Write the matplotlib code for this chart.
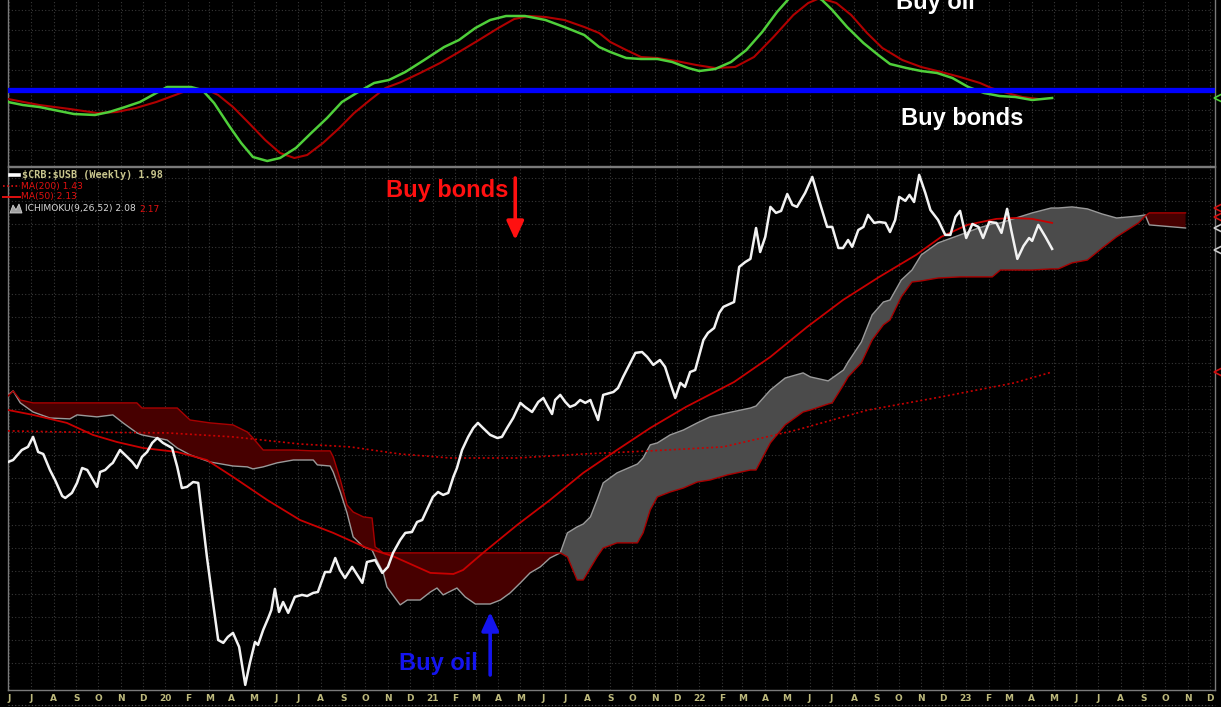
import numpy as np
import pandas as pd
import matplotlib
matplotlib.use("Agg")
import matplotlib.pyplot as plt
import matplotlib.transforms as mtransforms
from matplotlib.lines import Line2D
from matplotlib.patches import Polygon

START = pd.Timestamp("2019-06-01")


def wk(weeks):
    return START + pd.to_timedelta(np.asarray(weeks, dtype=float) * 7, unit="D")


# ---------------- data: $CRB:$USB weekly (weeks since 2019-06-01) ----------------
crb_weeks = [-0.2, 0.8, 2.5, 3.7, 4.7, 5.7, 6.7, 8.0, 9.0, 10.4,
             11.0, 12.3, 13.3, 14.3, 15.3, 16.2, 17.2, 17.8, 18.8, 19.8,
             20.3, 21.7, 23.1, 24.1, 25.0, 26.0, 27.0, 28.0, 29.0, 30.1,
             31.9, 32.9, 33.8, 34.8, 36.0, 37.0, 38.7, 39.9, 40.9, 41.9,
             42.8, 43.8, 45.0, 46.2, 47.1, 48.1, 48.7, 49.7, 50.7, 51.3,
             52.0, 52.8, 53.6, 54.6, 55.9, 57.3, 58.3, 59.5, 60.4, 61.8,
             62.8, 63.8, 64.7, 65.7, 67.1, 69.1, 70.0, 71.6, 73.0, 74.1,
             75.1, 76.5, 77.5, 78.8, 79.8, 80.8, 82.0, 82.9, 83.9, 84.9,
             85.9, 86.9, 87.6, 88.6, 89.8, 90.8, 91.7, 92.7, 94.1, 95.5,
             96.4, 97.4, 98.6, 100.0, 100.9, 102.3, 103.5, 104.5, 105.2, 106.2,
             106.8, 107.8, 108.8, 109.7, 110.7, 111.7, 112.7, 113.7, 114.2, 115.2,
             116.2, 118.2, 119.1, 120.1, 121.5, 122.5, 123.8, 124.8, 126.0, 127.3,
             128.3, 129.3, 130.3, 131.3, 132.2, 133.2, 134.2, 135.8, 136.7, 137.9,
             138.9, 139.7, 141.8, 142.8, 144.0, 145.0, 146.1, 146.9, 147.9, 148.9,
             150.0, 151.0, 152.2, 153.2, 154.1, 155.7, 157.1, 158.4, 160.0, 161.0,
             162.2, 163.1, 164.1, 164.9, 166.1, 167.1, 168.0, 169.2, 170.2, 171.4,
             172.3, 173.3, 174.1, 175.3, 176.1, 177.0, 178.0, 179.2, 180.2, 181.7,
             183.1, 184.1, 185.1, 186.0, 187.2, 188.4, 189.6, 190.5, 191.7, 193.1,
             194.1, 195.2, 196.0, 197.2, 198.4, 199.5, 200.1, 201.3, 202.7, 204.0]
crb_vals = [1.026, 1.035, 1.080, 1.094, 1.139, 1.071, 1.062, 0.990, 0.945, 0.873,
            0.864, 0.887, 0.932, 0.999, 0.990, 0.954, 0.914, 0.981, 0.990, 1.013,
            1.022, 1.080, 1.049, 1.026, 0.999, 1.049, 1.071, 1.112, 1.134, 1.112,
            1.089, 1.004, 0.909, 0.914, 0.936, 0.932, 0.599, 0.392, 0.225, 0.212,
            0.239, 0.257, 0.194, 0.023, 0.122, 0.216, 0.203, 0.270, 0.324, 0.360,
            0.455, 0.351, 0.396, 0.347, 0.419, 0.428, 0.423, 0.437, 0.441, 0.531,
            0.531, 0.594, 0.540, 0.504, 0.554, 0.482, 0.576, 0.585, 0.527, 0.554,
            0.617, 0.675, 0.707, 0.711, 0.756, 0.765, 0.824, 0.869, 0.891, 0.878,
            0.887, 0.959, 0.999, 1.080, 1.139, 1.179, 1.202, 1.179, 1.148, 1.134,
            1.139, 1.179, 1.224, 1.292, 1.274, 1.251, 1.296, 1.314, 1.283, 1.242,
            1.305, 1.328, 1.296, 1.274, 1.283, 1.305, 1.292, 1.305, 1.274, 1.215,
            1.328, 1.341, 1.359, 1.409, 1.472, 1.517, 1.521, 1.499, 1.463, 1.485,
            1.454, 1.382, 1.314, 1.382, 1.364, 1.431, 1.440, 1.575, 1.607, 1.629,
            1.697, 1.724, 1.746, 1.904, 1.926, 1.940, 2.079, 1.971, 2.039, 2.174,
            2.147, 2.156, 2.232, 2.183, 2.174, 2.237, 2.309, 2.205, 2.084, 2.084,
            1.989, 1.989, 2.025, 1.994, 2.070, 2.084, 2.138, 2.102, 2.106, 2.102,
            2.061, 2.115, 2.219, 2.201, 2.228, 2.196, 2.318, 2.237, 2.160, 2.115,
            2.048, 2.048, 2.129, 2.156, 2.034, 2.097, 2.084, 2.034, 2.106, 2.102,
            2.057, 2.165, 2.070, 1.940, 1.998, 2.034, 2.021, 2.093, 2.039, 1.985]

# ---------------- moving averages ----------------
ma50_weeks = [-0.2, 4.7, 11.3, 16.4, 21.1, 26.2, 32.9, 38.7, 43.8, 50.5,
              56.9, 63.4, 70.0, 75.1, 82.4, 86.9, 88.8, 92.7, 99.4, 105.8,
              112.3, 118.9, 125.4, 132.4, 141.8, 148.9, 156.1, 163.1, 170.2, 177.4,
              182.3, 187.4, 193.1, 196.6, 200.1, 204.0]
ma50_vals = [1.260, 1.238, 1.202, 1.148, 1.116, 1.089, 1.071, 1.035, 0.959, 0.855,
             0.765, 0.707, 0.639, 0.602, 0.527, 0.522, 0.540, 0.617, 0.743, 0.855,
             0.977, 1.080, 1.179, 1.274, 1.386, 1.499, 1.634, 1.755, 1.859, 1.958,
             2.039, 2.093, 2.120, 2.124, 2.120, 2.102]
ma200_weeks = [-0.2, 11.3, 30.9, 43.8, 56.9, 66.7, 76.5, 86.3, 99.4, 112.3,
               125.4, 139.7, 154.0, 168.0, 182.3, 196.6, 204.0]
ma200_vals = [1.166, 1.161, 1.157, 1.139, 1.107, 1.094, 1.062, 1.044, 1.044, 1.062,
              1.076, 1.094, 1.170, 1.260, 1.319, 1.382, 1.431]

# ---------------- Ichimoku cloud (leading spans, shifted forward) ----------------
cloud_weeks = [-0.2, 0.8, 2.2, 4.7, 8.0, 11.9, 13.3, 17.2, 20.3, 22.3,
               25.0, 26.0, 30.9, 32.9, 35.4, 39.3, 43.8, 46.6, 47.7, 49.7,
               52.4, 55.6, 59.5, 60.3, 62.8, 63.4, 64.8, 66.1, 67.3, 69.3,
               71.0, 71.6, 73.2, 73.9, 76.5, 77.9, 80.4, 82.4, 83.7, 84.9,
               87.6, 89.2, 91.2, 94.1, 96.1, 98.0, 100.0, 101.9, 103.9, 105.8,
               107.8, 109.2, 111.1, 112.3, 113.7, 115.0, 116.2, 118.9, 122.9, 124.0,
               125.4, 126.8, 129.3, 131.9, 134.6, 137.1, 140.5, 145.0, 146.1, 148.9,
               151.8, 155.3, 156.7, 160.2, 161.0, 163.2, 164.1, 166.7, 168.8, 171.0,
               172.3, 174.5, 176.6, 178.4, 181.7, 186.0, 189.6, 192.3, 193.9, 200.1,
               203.8, 205.2, 207.9, 210.9, 213.8, 216.6, 220.9, 222.2, 223.0, 230.1]
span_a = [1.328, 1.346, 1.292, 1.251, 1.224, 1.220, 1.238, 1.229, 1.238, 1.202,
          1.157, 1.148, 1.125, 1.089, 1.058, 1.026, 1.008, 1.004, 0.995, 1.004,
          1.022, 1.035, 1.035, 1.013, 1.008, 0.981, 0.891, 0.797, 0.689, 0.644,
          0.630, 0.599, 0.527, 0.464, 0.383, 0.405, 0.405, 0.441, 0.459, 0.428,
          0.459, 0.419, 0.387, 0.387, 0.405, 0.437, 0.482, 0.527, 0.554, 0.594,
          0.617, 0.707, 0.734, 0.747, 0.779, 0.855, 0.932, 0.977, 1.017, 1.044,
          1.103, 1.112, 1.148, 1.170, 1.202, 1.229, 1.247, 1.269, 1.278, 1.350,
          1.404, 1.427, 1.409, 1.391, 1.404, 1.440, 1.476, 1.566, 1.688, 1.746,
          1.755, 1.845, 1.890, 1.958, 2.012, 2.048, 2.079, 2.097, 2.102, 2.147,
          2.169, 2.169, 2.174, 2.165, 2.142, 2.124, 2.133, 2.138, 2.093, 2.079]
span_b = [1.323, 1.346, 1.305, 1.292, 1.292, 1.292, 1.292, 1.292, 1.292, 1.292,
          1.292, 1.269, 1.269, 1.269, 1.215, 1.202, 1.193, 1.161, 1.134, 1.080,
          1.080, 1.080, 1.076, 1.076, 1.076, 1.049, 0.945, 0.833, 0.801, 0.779,
          0.774, 0.644, 0.617, 0.617, 0.617, 0.617, 0.617, 0.617, 0.617, 0.617,
          0.617, 0.617, 0.617, 0.617, 0.617, 0.617, 0.617, 0.617, 0.617, 0.617,
          0.617, 0.599, 0.495, 0.495, 0.549, 0.599, 0.639, 0.662, 0.662, 0.707,
          0.810, 0.869, 0.891, 0.909, 0.936, 0.945, 0.968, 0.990, 0.990, 1.112,
          1.193, 1.251, 1.260, 1.287, 1.292, 1.373, 1.409, 1.472, 1.575, 1.643,
          1.665, 1.769, 1.836, 1.841, 1.854, 1.859, 1.859, 1.859, 1.890, 1.890,
          1.895, 1.895, 1.922, 1.935, 1.989, 2.039, 2.102, 2.133, 2.147, 2.147]

# ---------------- upper oscillator ----------------
osc_weeks = [-0.2, 2.7, 5.9, 8.8, 12.7, 16.8, 19.6, 22.7, 25.6, 28.8,
             30.9, 33.3, 35.6, 37.8, 40.1, 43.2, 45.4, 47.7, 50.5, 53.0,
             56.1, 59.1, 62.2, 65.1, 68.3, 71.4, 74.3, 77.5, 81.2, 85.1,
             88.0, 91.2, 94.1, 97.2, 100.9, 104.9, 108.6, 112.5, 115.4, 117.6,
             120.7, 123.6, 126.8, 129.7, 132.8, 135.0, 138.1, 141.2, 144.2, 147.3,
             150.2, 152.8, 155.7, 159.0, 161.0, 163.9, 167.1, 170.0, 172.3, 175.5,
             178.4, 181.5, 184.5, 187.6, 190.7, 193.7, 196.8, 200.1, 204.0]
osc_vals = [-1.2, -1.5, -1.7, -2.0, -2.4, -2.5, -2.2, -1.7, -1.2, -0.3,
            0.3, 0.3, 0.3, 0.0, -1.3, -3.7, -5.3, -6.7, -7.1, -6.8,
            -5.8, -4.3, -2.8, -1.2, -0.2, 0.7, 1.0, 1.8, 3.0, 4.3,
            5.0, 6.2, 7.0, 7.4, 7.4, 7.0, 6.3, 5.5, 4.3, 3.8,
            3.2, 3.1, 3.1, 2.8, 2.2, 1.9, 2.1, 2.8, 4.0, 5.8,
            7.8, 9.3, 9.9, 9.0, 8.0, 6.3, 4.7, 3.5, 2.6, 2.2,
            1.9, 1.7, 1.2, 0.3, -0.3, -0.6, -0.7, -1.0, -0.8]
sig_weeks = [-0.2, 5.9, 11.9, 17.2, 21.1, 24.8, 28.8, 32.5, 35.6, 38.5,
             40.9, 43.8, 46.9, 50.1, 53.0, 55.8, 58.3, 61.4, 64.6, 67.5,
             70.6, 73.6, 76.7, 80.4, 84.3, 88.0, 91.9, 95.7, 98.8, 101.7,
             104.9, 108.6, 112.5, 115.4, 117.6, 120.7, 123.6, 126.8, 130.5, 134.4,
             138.1, 142.0, 145.7, 149.5, 153.4, 156.3, 158.6, 161.8, 164.7, 167.8,
             170.8, 174.7, 178.4, 182.3, 186.0, 189.9, 192.1, 195.2, 198.2, 201.3]
sig_vals = [-0.9, -1.5, -1.9, -2.3, -2.2, -1.8, -1.2, -0.5, 0.1, 0.1,
            -0.5, -1.7, -3.3, -5.0, -6.3, -6.8, -6.5, -5.3, -3.8, -2.3,
            -1.0, 0.2, 0.8, 1.7, 2.7, 3.8, 5.0, 6.2, 7.1, 7.4,
            7.3, 7.0, 6.3, 5.7, 4.8, 4.0, 3.3, 3.2, 2.9, 2.5,
            2.2, 2.3, 3.3, 5.3, 7.5, 8.7, 9.2, 8.7, 7.5, 5.7,
            4.2, 3.0, 2.3, 1.8, 1.3, 0.7, 0.2, -0.3, -0.7, -0.9]
osc_zero = 0.0

# ---------------- legend values ----------------
crb_last = 1.98
ma200_last = 1.43
ma50_last = 2.13
ichi_a_last = 2.08
ichi_b_last = 2.17

# ---------------- month tick labels ----------------
month_starts = pd.date_range("2019-06-01", "2023-12-01", freq="MS")
month_labels = ["J", "J", "A", "S", "O", "N", "D",
                "20", "F", "M", "A", "M", "J", "J", "A", "S", "O", "N", "D",
                "21", "F", "M", "A", "M", "J", "J", "A", "S", "O", "N", "D",
                "22", "F", "M", "A", "M", "J", "J", "A", "S", "O", "N", "D",
                "23", "F", "M", "A", "M", "J", "J", "A", "S", "O", "N", "D"]

# ---------------- figure ----------------
W, H, DPI = 1221, 707, 100
fig = plt.figure(figsize=(W / DPI, H / DPI), dpi=DPI, facecolor="black")


def fx(px):
    return px / W


def fy(py):
    return 1 - py / H


ax_top = fig.add_axes([fx(8), fy(166), fx(1215) - fx(8), fy(0) - fy(166)])
ax = fig.add_axes([fx(8), fy(690), fx(1215) - fx(8), fy(167) - fy(690)], sharex=ax_top)

GRID = "#383838"
for a in (ax, ax_top):
    a.set_facecolor("black")
    a.grid(True, color=GRID, linestyle=(0, (1, 2)), linewidth=0.8)
    a.set_axisbelow(True)
    a.tick_params(length=0)
    for s in a.spines.values():
        s.set_color("#7a7a7a")
        s.set_linewidth(1.0)
ax_top.spines["top"].set_visible(False)

xmin, xmax = pd.Timestamp("2019-05-30 14:00"), pd.Timestamp("2023-12-08")
ax.set_xlim(xmin, xmax)
ax.set_xticks(month_starts)
ax.set_xticklabels(month_labels, color="#bdb97c", fontsize=6.5, fontweight="bold",
                   family="DejaVu Sans")
ax.tick_params(axis="x", pad=3)
plt.setp(ax_top.get_xticklabels(), visible=False)

# ---- main panel ----
ax.set_ylim(0.0, 2.3535)
ax.set_yticks(np.arange(0.12, 2.36, 0.104))
ax.set_yticklabels([])
ax_top.set_ylim(-7.6, 9.0)
ax_top.set_yticks(np.arange(-6, 9, 2))
ax_top.set_yticklabels([])

cx = wk(cloud_weeks)
a_arr = np.array(span_a)
b_arr = np.array(span_b)
ax.fill_between(cx, a_arr, b_arr, where=b_arr >= a_arr, interpolate=True,
                color="#470000", linewidth=0, zorder=2)
ax.fill_between(cx, a_arr, b_arr, where=a_arr >= b_arr, interpolate=True,
                color="#4b4b4b", linewidth=0, zorder=2)
ax.plot(cx, a_arr, color="#9a9a9a", lw=1.0, zorder=3)
ax.plot(cx, b_arr, color="#a80000", lw=1.0, zorder=3)

ax.plot(wk(ma200_weeks), ma200_vals, color="#c80000", lw=1.2,
        linestyle=(0, (1.2, 1.6)), zorder=4)
ax.plot(wk(ma50_weeks), ma50_vals, color="#c80000", lw=1.3, zorder=4)
ax.plot(wk(crb_weeks), crb_vals, color="#f2f2f2", lw=1.8, zorder=5)

# annotations in main panel
ax.text(wk([85.6])[0], 2.2185, "Buy bonds", color="#ff1010", fontsize=17,
        fontweight="bold", family="Liberation Sans", ha="center", va="baseline", zorder=6)
ax.annotate("", xy=(wk([99.0])[0], 2.025), xytext=(wk([99.0])[0], 2.304),
            arrowprops=dict(arrowstyle="-|>,head_length=0.7,head_width=0.32",
                            color="#ff1010", lw=2.6, shrinkA=0, shrinkB=0,
                            mutation_scale=16), zorder=6)
ax.text(wk([84.0])[0], 0.09, "Buy oil", color="#1414ee", fontsize=17,
        fontweight="bold", family="Liberation Sans", ha="center", va="baseline", zorder=6)
ax.annotate("", xy=(wk([94.1])[0], 0.351), xytext=(wk([94.1])[0], 0.0675),
            arrowprops=dict(arrowstyle="-|>,head_length=0.7,head_width=0.32",
                            color="#1414ee", lw=2.6, shrinkA=0, shrinkB=0,
                            mutation_scale=16), zorder=6)

# right edge price markers
trans_r = mtransforms.blended_transform_factory(ax.transAxes, ax.transData)
for val, col in [(ichi_b_last, "#d01010"), (ma50_last, "#d01010"),
                 (ichi_a_last, "#c8c8c8"), (crb_last, "#c8c8c8"),
                 (ma200_last, "#d01010")]:
    ax.plot([1.0035], [val], transform=trans_r, marker="<", markersize=7,
            markerfacecolor="none", markeredgecolor=col, markeredgewidth=1.2,
            clip_on=False, zorder=7)

# ---- top panel ----
ax_top.plot(wk(sig_weeks), sig_vals, color="#b00000", lw=1.5, zorder=3)
ax_top.plot(wk(osc_weeks), osc_vals, color="#4fcf3a", lw=1.8, zorder=4)
ax_top.axhline(osc_zero, color="#0000ff", lw=3.8, zorder=5)
trans_t = mtransforms.blended_transform_factory(ax_top.transAxes, ax_top.transData)
ax_top.plot([1.0035], [osc_vals[-1]], transform=trans_t, marker="<", markersize=7,
            markerfacecolor="none", markeredgecolor="#4fcf3a", markeredgewidth=1.2,
            clip_on=False, zorder=7)
ax_top.text(wk([181.1])[0], 8.1, "Buy oil", color="white", fontsize=17,
            fontweight="bold", family="Liberation Sans", ha="center", va="baseline",
            zorder=6)
ax_top.text(wk([186.4])[0], -3.5, "Buy bonds", color="white", fontsize=17,
            fontweight="bold", family="Liberation Sans", ha="center", va="baseline",
            zorder=6)

# ---- legend block (top-left of main panel) ----
LEG = dict(fontsize=6.6, family="DejaVu Sans", va="center", ha="left")
fig.add_artist(Line2D([fx(10), fx(19)], [fy(175), fy(175)], color="white", lw=2.6))
fig.text(fx(22), fy(175), r"\$CRB:\$USB (Weekly) " + f"{crb_last:.2f}",
         color="#c9c68e", fontsize=7.3, family="DejaVu Sans Mono", fontweight="bold",
         va="center", ha="left")
fig.add_artist(Line2D([fx(3), fx(20)], [fy(186), fy(186)], color="#e01010", lw=1.2,
                      linestyle=(0, (1, 1.5))))
fig.text(fx(21), fy(186), f"MA(200) {ma200_last:.2f}", color="#e01010", **LEG)
fig.add_artist(Line2D([fx(3), fx(20)], [fy(197), fy(197)], color="#e01010", lw=1.4))
fig.text(fx(21), fy(197), f"MA(50) {ma50_last:.2f}", color="#e01010", **LEG)
fig.add_artist(Polygon([[fx(10), fy(213)], [fx(13), fy(205)], [fx(16), fy(210)],
                        [fx(19), fy(204)], [fx(22), fy(213)]],
                       closed=True, facecolor="#a0a0a0", edgecolor="#d0d0d0", lw=0.6))
fig.text(fx(25), fy(209), f"ICHIMOKU(9,26,52) {ichi_a_last:.2f}", color="#d8d8d8", **LEG)
fig.text(fx(139), fy(209), f"{ichi_b_last:.2f}", color="#e01010", **LEG)

# bottom dotted border under the date strip
fig.add_artist(Line2D([fx(8), fx(1215)], [fy(705), fy(705)], color="#555555", lw=0.8,
                      linestyle=(0, (1, 2))))

fig.savefig("out.png", dpi=DPI, facecolor="black")
